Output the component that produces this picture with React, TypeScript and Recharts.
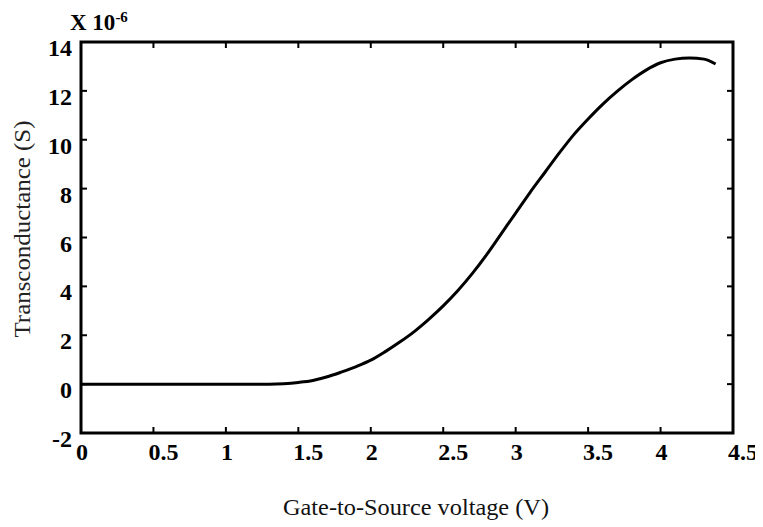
import React from "react";
import { LineChart, Line, XAxis, YAxis, Label, ReferenceArea, ReferenceLine } from "recharts";

// Gate-to-source voltage (V)
const vgs = [
  0, 0.1, 0.2, 0.3, 0.4, 0.5, 0.6, 0.7, 0.8, 0.9, 1.0, 1.1, 1.2, 1.3, 1.4, 1.5,
  1.6, 1.7, 1.8, 1.9, 2.0, 2.1, 2.2, 2.3, 2.4, 2.5, 2.6, 2.7, 2.8, 2.9, 3.0, 3.1,
  3.2, 3.3, 3.4, 3.5, 3.6, 3.7, 3.8, 3.9, 4.0, 4.1, 4.2, 4.3, 4.38,
];
// Transconductance, in units of 1e-6 S
const gm = [
  0, 0, 0, 0, 0, 0, 0, 0, 0, 0, 0, 0, 0, 0, 0.02, 0.07,
  0.15, 0.3, 0.5, 0.72, 0.98, 1.33, 1.72, 2.15, 2.65, 3.2, 3.82, 4.52, 5.3, 6.15, 7.0, 7.85,
  8.65, 9.45, 10.2, 10.85, 11.45, 11.98, 12.45, 12.85, 13.15, 13.3, 13.35, 13.3, 13.1,
];

const xTicks = [0, 0.5, 1, 1.5, 2, 2.5, 3, 3.5, 4, 4.5];
const yTicks = [-2, 0, 2, 4, 6, 8, 10, 12, 14];

const data = vgs.map((v, i) => ({ v, g: gm[i] }));

const SERIF = "'Liberation Serif', 'Times New Roman', serif";
const TICK_LEN = 6;

const BottomTick = (props: any) => {
  const { x, y, payload } = props;
  return (
    <text x={x - 5} y={y + 27} textAnchor="start" fontFamily={SERIF} fontWeight="bold" fontSize={24} fill="#000">
      {payload.value}
    </text>
  );
};

const LeftTick = (props: any) => {
  const { x, y, payload } = props;
  return (
    <text x={x - 9} y={y + 14} textAnchor="end" fontFamily={SERIF} fontWeight="bold" fontSize={24} fill="#000">
      {payload.value}
    </text>
  );
};

// Short inward tick marks at both ends of a vertical reference line (bottom and top frame edges)
const VerticalTicks = (p: any) => {
  const top = Math.min(p.y1, p.y2);
  const bottom = Math.max(p.y1, p.y2);
  return (
    <g>
      <path d={`M${p.x1},${bottom}V${bottom - TICK_LEN}`} stroke="#000" strokeWidth={2} fill="none" />
      <path d={`M${p.x1},${top}V${top + TICK_LEN}`} stroke="#000" strokeWidth={2} fill="none" />
    </g>
  );
};

// Short inward tick marks at both ends of a horizontal reference line (left and right frame edges)
const HorizontalTicks = (p: any) => {
  const left = Math.min(p.x1, p.x2);
  const right = Math.max(p.x1, p.x2);
  return (
    <g>
      <path d={`M${left},${p.y1}H${left + TICK_LEN}`} stroke="#000" strokeWidth={2} fill="none" />
      <path d={`M${right},${p.y1}H${right - TICK_LEN}`} stroke="#000" strokeWidth={2} fill="none" />
    </g>
  );
};

export default function App() {
  return (
    <LineChart width={755} height={519} data={data} margin={{ top: 34, right: 30, bottom: 54, left: 0 }}>
      <XAxis
        dataKey="v"
        type="number"
        domain={[0, 4.5]}
        ticks={xTicks}
        axisLine={false}
        tickLine={false}
        tickSize={0}
        tickMargin={0}
        tick={<BottomTick />}
        height={40}
        interval={0}
      >
        <Label
          content={() => (
            <text
              x={408}
              y={507}
              textAnchor="middle"
              fontFamily={SERIF}
              fontSize={23}
              textLength={266}
              lengthAdjust="spacingAndGlyphs"
              fill="#111"
            >
              Gate-to-Source voltage (V)
            </text>
          )}
        />
      </XAxis>
      <YAxis
        type="number"
        domain={[-2, 14]}
        ticks={yTicks}
        axisLine={false}
        tickLine={false}
        tickSize={0}
        tickMargin={0}
        tick={<LeftTick />}
        width={73}
        interval={0}
      >
        <Label
          content={() => (
            <g>
              <text
                x={14}
                y={221}
                transform="rotate(-90 14 221)"
                textAnchor="middle"
                dominantBaseline="central"
                fontFamily={SERIF}
                fontSize={23}
                textLength={217}
                lengthAdjust="spacingAndGlyphs"
                fill="#222"
              >
                Transconductance (S)
              </text>
              <text x={62} y={22} fontFamily={SERIF} fontWeight="bold" fontSize={23} fill="#000">
                X 10
                <tspan dy={-8} fontSize={15}>-6</tspan>
              </text>
            </g>
          )}
        />
      </YAxis>
      {xTicks.slice(1, -1).map((t) => (
        <ReferenceLine key={`xt${t}`} x={t} shape={VerticalTicks} />
      ))}
      {yTicks.slice(1, -1).map((t) => (
        <ReferenceLine key={`yt${t}`} y={t} shape={HorizontalTicks} />
      ))}
      <ReferenceArea
        x1={0}
        x2={4.5}
        y1={-2}
        y2={14}
        fill="none"
        fillOpacity={0}
        stroke="#000"
        strokeWidth={3}
        ifOverflow="visible"
      />
      <Line
        dataKey="g"
        type="monotone"
        stroke="#000"
        strokeWidth={3}
        dot={false}
        isAnimationActive={false}
      />
    </LineChart>
  );
}
